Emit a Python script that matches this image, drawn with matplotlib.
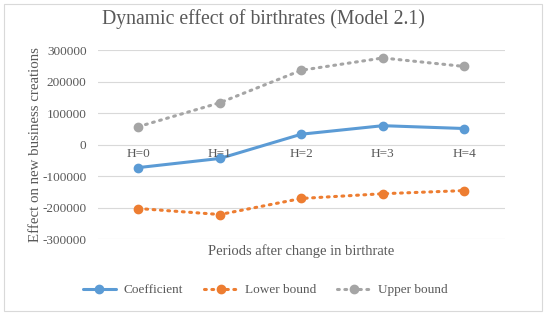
import matplotlib
matplotlib.use("Agg")
import matplotlib.pyplot as plt
from matplotlib.patches import FancyBboxPatch

plt.rcParams['font.family'] = ['Liberation Serif', 'DejaVu Serif']

periods = ["H=0", "H=1", "H=2", "H=3", "H=4"]
coefficient = [-73000, -44000, 33000, 60000, 51000]
lower_bound = [-203000, -222000, -171000, -156000, -146000]
upper_bound = [57000, 133000, 236000, 275000, 248000]
yticks = [-300000, -200000, -100000, 0, 100000, 200000, 300000]

fig = plt.figure(figsize=(5.46, 3.15), dpi=100)
ax = fig.add_axes([0.179, 0.241, 0.746, 0.600])

x = list(range(len(periods)))
ax.plot(x, coefficient, color="#5B9BD5", lw=2.2, marker="o", ms=6,
        label="Coefficient", solid_capstyle="round")
ax.plot(x, lower_bound, color="#ED7D31", lw=2.2, ls=(0, (0.6, 1.8)),
        dash_capstyle="round", marker="o", ms=6, label="Lower bound")
ax.plot(x, upper_bound, color="#A5A5A5", lw=2.2, ls=(0, (0.6, 1.8)),
        dash_capstyle="round", marker="o", ms=6, label="Upper bound")

ax.set_xlim(-0.5, len(periods) - 0.5)
ax.set_ylim(-300000, 300000)
ax.set_yticks(yticks)
ax.set_yticklabels([str(v) for v in yticks], fontsize=9.5, color="#595959")
ax.tick_params(axis="y", length=0, pad=8)
ax.set_xticks([])
ax.grid(axis="y", color="#D9D9D9", lw=0.8)
ax.set_axisbelow(True)
for s in ax.spines.values():
    s.set_visible(False)

# category labels sit just under the zero line
for i, p in enumerate(periods):
    ax.text(i, -12000, p, ha="center", va="top", fontsize=9.5, color="#595959")

ax.set_ylabel("Effect on new business creations", fontsize=10.7, color="#595959", labelpad=0)
fig.text(0.551, 0.203, "Periods after change in birthrate", ha="center", va="center",
         fontsize=10.5, color="#595959")
fig.text(0.482, 0.94, "Dynamic effect of birthrates (Model 2.1)", ha="center",
         va="center", fontsize=14.2, color="#595959")

leg = fig.legend(loc="center", bbox_to_anchor=(0.486, 0.079), ncol=3, frameon=False,
                 fontsize=9.5, handlelength=2.5, columnspacing=1.6, handletextpad=0.6)
for t in leg.get_texts():
    t.set_color("#595959")

fig.patches.append(FancyBboxPatch((0.008, 0.012), 0.984, 0.976, boxstyle="square,pad=0",
                                  transform=fig.transFigure, fill=False,
                                  edgecolor="#D9D9D9", lw=0.8))

fig.savefig("out.png", dpi=100)
